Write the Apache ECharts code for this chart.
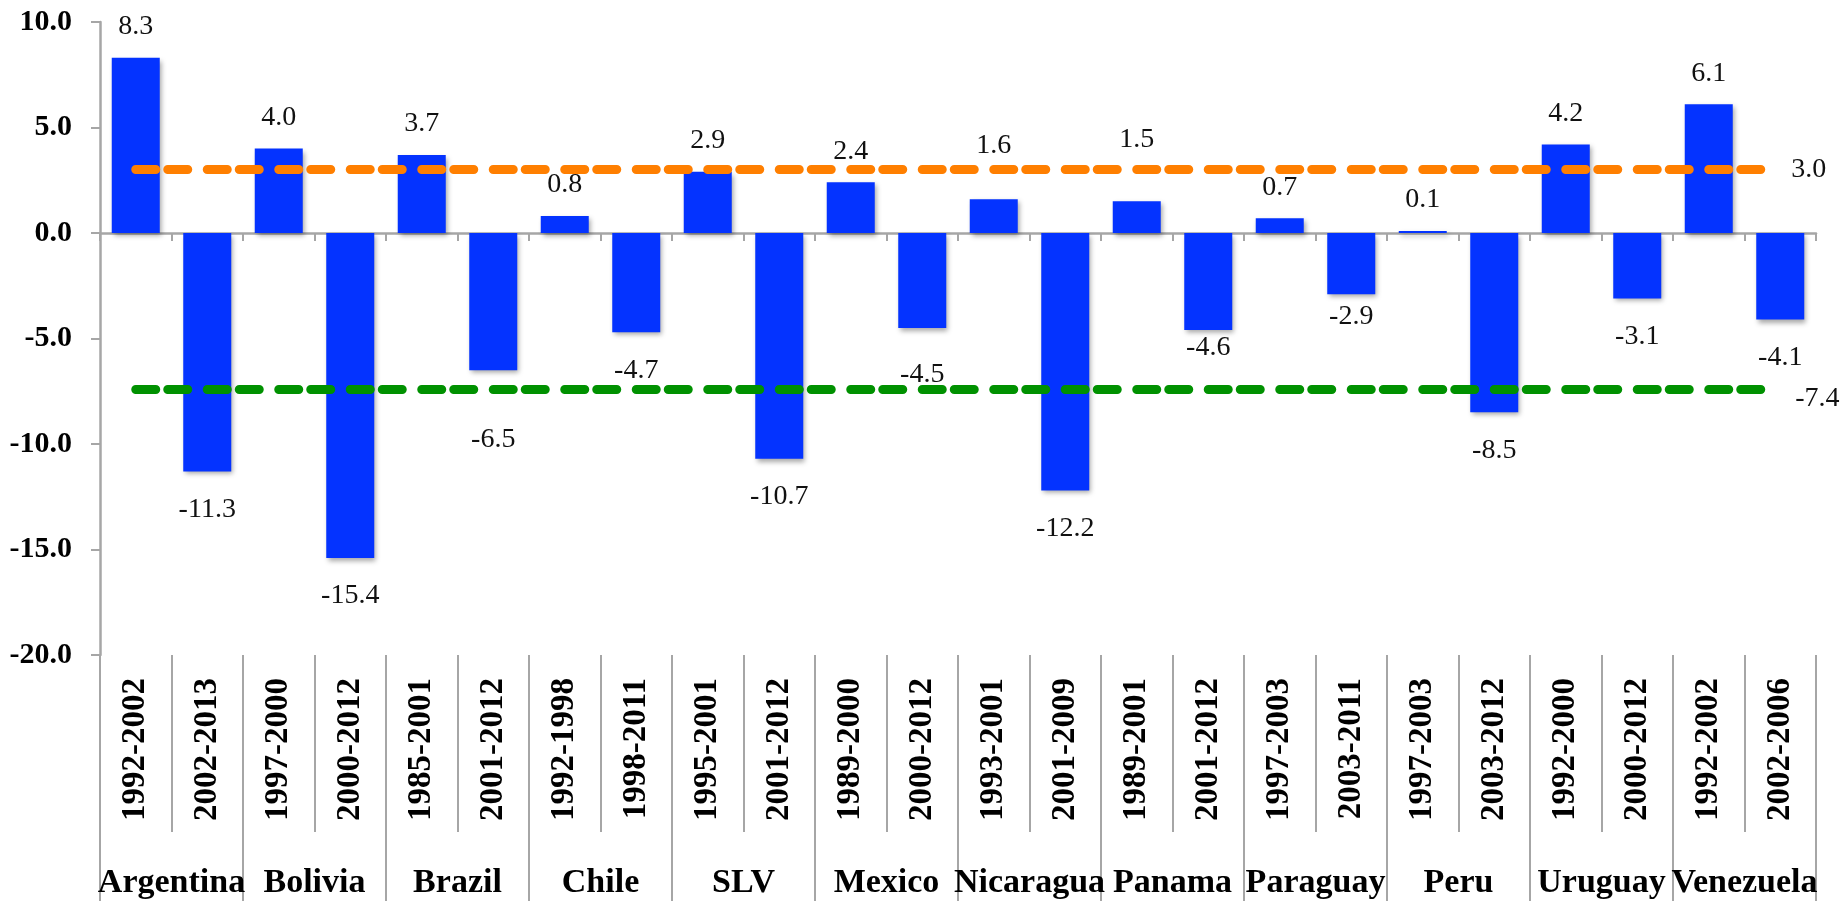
<!DOCTYPE html>
<html>
<head>
<meta charset="utf-8">
<title>Growth by period</title>
<script src="https://cdn.jsdelivr.net/npm/echarts@6/dist/echarts.min.js"></script>
<style>
  html, body { margin: 0; padding: 0; background: #fff; }
  #GrowthBar { width: 1845px; height: 901px; }
</style>
</head>
<body>
<div id="GrowthBar"></div>
<script>
// periods (inner level) and countries (outer level)
const periods = [
  '1992-2002', '2002-2013', '1997-2000', '2000-2012', '1985-2001', '2001-2012',
  '1992-1998', '1998-2011', '1995-2001', '2001-2012', '1989-2000', '2000-2012',
  '1993-2001', '2001-2009', '1989-2001', '2001-2012', '1997-2003', '2003-2011',
  '1997-2003', '2003-2012', '1992-2000', '2000-2012', '1992-2002', '2002-2006'
]
const countries = [
  'Argentina', 'Bolivia', 'Brazil', 'Chile', 'SLV', 'Mexico',
  'Nicaragua', 'Panama', 'Paraguay', 'Peru', 'Uruguay', 'Venezuela'
]
const growth = [
  8.3, -11.3, 4.0, -15.4, 3.7, -6.5, 0.8, -4.7, 2.9, -10.7, 2.4, -4.5,
  1.6, -12.2, 1.5, -4.6, 0.7, -2.9, 0.1, -8.5, 4.2, -3.1, 6.1, -4.1
]
const upperAvg = 3.0
const lowerAvg = -7.4
const yMin = -20
const yMax = 10
const yStep = 5

// hand-moved data labels in the original (extra px away from bar end)
const labelNudge = { 5: 31, 11: 9, 12: 23, 14: 31, 15: -20, 17: -16 }

const serif = "'Liberation Serif', 'DejaVu Serif', serif"
const grey = '#a6a6a6'

const chartBox = echarts.init(document.getElementById('GrowthBar'))

const barData = growth.map(function (v, i) {
  const up = v >= 0
  return {
    value: v,
    label: {
      position: up ? 'top' : 'bottom',
      distance: (up ? 17 : 24) + (labelNudge[i] || 0)
    }
  }
})

const dashStyle = function (color) {
  return {
    color: color,
    width: 9,
    type: [20, 12, 20, 19.5],
    cap: 'round'
  }
}

const oneDecimal = function (p) {
  const v = typeof p.value === 'number' ? p.value : Number(p.data && p.data.value)
  return v.toFixed(1)
}

const option = {
  backgroundColor: '#fff',
  animation: false,
  grid: {
    left: 100,
    right: 29,
    top: 22,
    bottom: 246,
    containLabel: false
  },
  xAxis: [
    {
      type: 'category',
      data: periods,
      axisLine: { show: true, onZero: true, lineStyle: { color: grey, width: 2.5 } },
      axisTick: { show: true, interval: 0, length: 8, lineStyle: { color: grey, width: 2 } },
      axisLabel: { show: false }
    },
    {
      type: 'category',
      data: periods,
      position: 'bottom',
      axisLine: { show: false, onZero: false },
      axisTick: { show: true, interval: 0, length: 177, lineStyle: { color: grey, width: 2 } },
      axisLabel: {
        interval: 0,
        rotate: 90,
        margin: 23,
        fontFamily: serif,
        fontWeight: 'bold',
        fontSize: 33,
        color: '#000'
      }
    },
    {
      type: 'category',
      data: countries,
      position: 'bottom',
      axisLine: { show: false, onZero: false },
      axisTick: { show: true, interval: 0, length: 250, lineStyle: { color: grey, width: 2 } },
      axisLabel: {
        interval: 0,
        margin: 211,
        fontFamily: serif,
        fontWeight: 'bold',
        fontSize: 34,
        color: '#000'
      }
    }
  ],
  yAxis: {
    type: 'value',
    min: yMin,
    max: yMax,
    interval: yStep,
    axisLine: { show: true, lineStyle: { color: grey, width: 2.5 } },
    axisTick: { show: true, length: 9, lineStyle: { color: grey, width: 2 } },
    splitLine: { show: false },
    axisLabel: {
      margin: 28,
      fontFamily: serif,
      fontWeight: 'bold',
      fontSize: 30,
      color: '#000',
      formatter: function (value) {
        return value.toFixed(1)
      }
    }
  },
  series: [
    {
      name: 'Growth',
      type: 'bar',
      xAxisIndex: 0,
      barWidth: 48,
      data: barData,
      itemStyle: {
        color: '#0433ff',
        shadowColor: 'rgba(0,0,0,0.35)',
        shadowBlur: 5,
        shadowOffsetX: 2,
        shadowOffsetY: 3
      },
      label: {
        show: true,
        fontFamily: serif,
        fontSize: 28,
        color: '#111',
        formatter: oneDecimal
      },
      markLine: {
        silent: true,
        symbol: 'none',
        z: 5,
        label: {
          show: true,
          position: 'end',
          distance: 11,
          fontFamily: serif,
          fontSize: 28,
          color: '#111',
          formatter: oneDecimal
        },
        data: [
          [
            { coord: [0, upperAvg], value: upperAvg, lineStyle: dashStyle('#ff7f00') },
            { coord: [periods.length - 1, upperAvg], value: upperAvg }
          ],
          [
            { coord: [0, lowerAvg], value: lowerAvg, lineStyle: dashStyle('#009100'),
              label: { offset: [4, 10] } },
            { coord: [periods.length - 1, lowerAvg], value: lowerAvg }
          ]
        ]
      }
    }
  ]
}

chartBox.setOption(option, true)
window.addEventListener('resize', function () {
  chartBox.resize()
})
</script>
</body>
</html>
